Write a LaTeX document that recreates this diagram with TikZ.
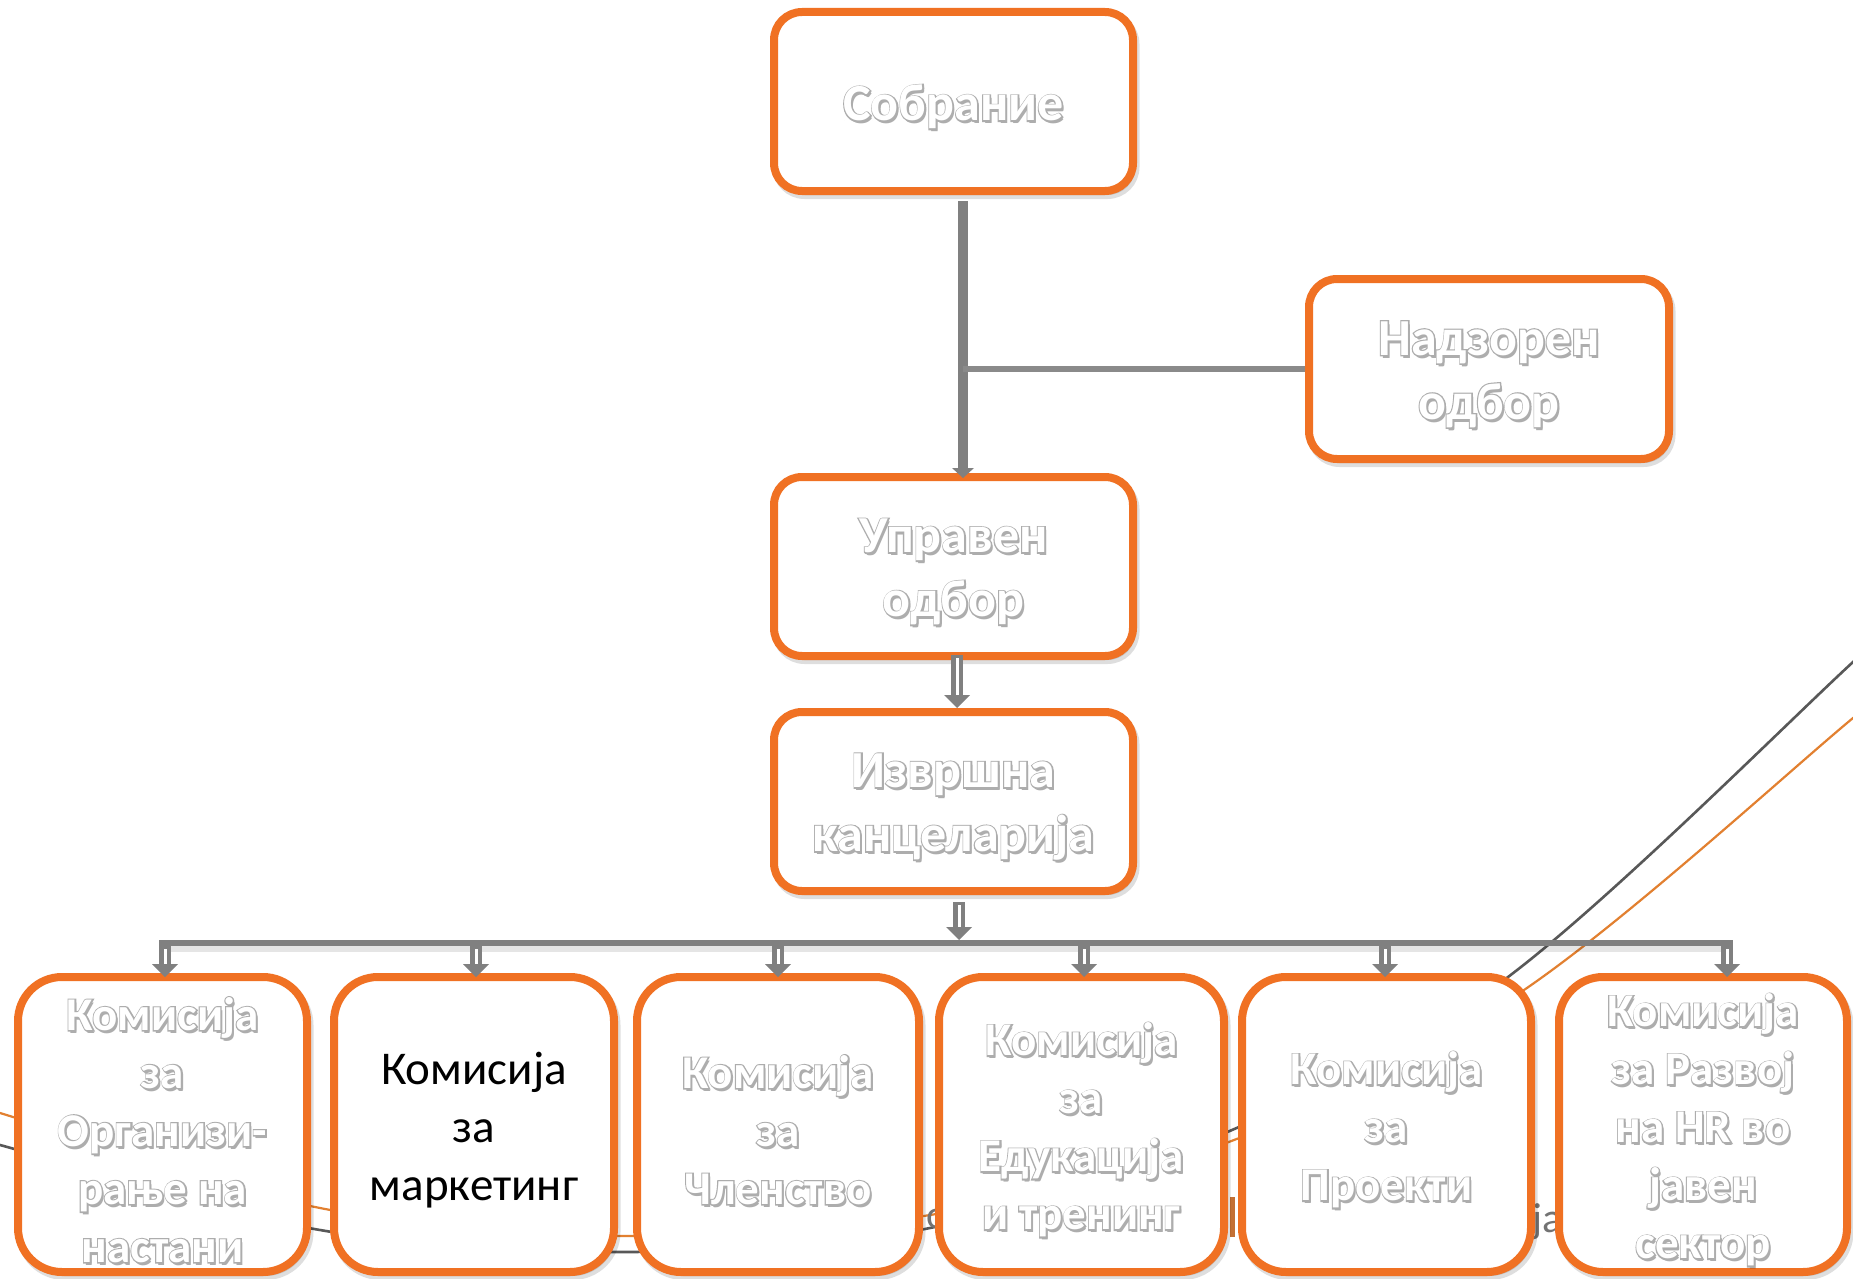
\documentclass[tikz,border=0pt]{standalone}
\usepackage{fontspec}
\setmainfont{Carlito}
\usetikzlibrary{calc}

\definecolor{boxorange}{RGB}{240,113,35}
\definecolor{linkgray}{RGB}{128,128,128}
\definecolor{arcgray}{RGB}{88,88,88}
\definecolor{arcorange}{RGB}{226,128,48}
\definecolor{fragbrown}{RGB}{196,112,52}

\tikzset{
  orgbox/.style={draw=boxorange, line width=8pt, fill=white, rounded corners=28pt,
    minimum width=359pt, minimum height=179pt, inner sep=0pt,
    preaction={draw=black, fill=black, opacity=.13, transform canvas={shift={(2.5pt,-4pt)}}}},
  combox/.style={orgbox, rounded corners=44pt, minimum height=295pt},
  toptxt/.style={font=\bfseries\fontsize{52}{64}\selectfont, align=center, inner sep=0pt},
  comtxt/.style={font=\bfseries\fontsize{47}{58}\selectfont, align=center, inner sep=0pt},
  plaintxt/.style={font=\fontsize{47}{58}\selectfont, align=center, inner sep=0pt, text=black},
  fragtxt/.style={anchor=base west, text=black!55, inner sep=0pt},
}

% fattened glyphs (fill and stroke) for the grey rim round white lettering
\newcommand\fatten{\special{pdf:literal direct 2 Tr 2.6 w 0.68 G}}
\newcommand\unfatten{\special{pdf:literal direct 0 Tr}}

% white lettering: soft shadow, grey rim, white face
\newcommand\glowtext[3][toptxt]{%
  \node[#1, text=black, opacity=.32] at ([shift={(2pt,-8.5pt)}]#2.center) {#3};
  \node[#1, text=black!32] at ([yshift=-5.5pt]#2.center) {\fatten#3\unfatten};
  \node[#1, text=white] (#2t) at ([yshift=-5.5pt]#2.center) {#3};
}

% hollow (double-line) arrow: [inner offset]{start}{tip}
\newcommand\dblarrow[3][3]{%
  \path (#3) ++(0,-13) coordinate (dbhead);
  \draw[linkgray, line width=12pt] (#2) -- (dbhead);
  \draw[white, line width=3pt] (#2) ++(0,#1) -- ($(dbhead)+(0,1)$);
  \fill[linkgray] ($(dbhead)+(-13,0)$) -- (#3) -- ($(dbhead)+(13,0)$) -- cycle;
}

\begin{document}
\begin{tikzpicture}[x=1pt, y=-1pt]
\useasboundingbox (0,0) rectangle (1853,1279);
\fill[white] (0,0) rectangle (1853,1279);

% decorative arcs in the background
\draw[arcgray, line width=2.6pt] plot[smooth, tension=.6] coordinates
  {(-20,1139) (0,1145) (320,1230) (625,1252) (930,1228) (1232,1130) (1508,977) (1853,662) (1880,635)};
\draw[arcorange, line width=2.2pt] plot[smooth, tension=.6] coordinates
  {(-20,1107) (0,1113) (320,1208) (625,1236) (930,1215) (1234,1140) (1524,990) (1853,718) (1880,696)};

% bits of background lettering peeking out between the boxes
\node[fragtxt, font=\fontsize{40}{48}\selectfont] (fragA) at (926,1228) {о};
\node[fragtxt, font=\fontsize{42}{50}\selectfont] (fragB) at (1532,1232) {ја};
\draw[fragbrown, line width=5pt] (1232,1197) -- (1232,1237);

% boxes
\node[orgbox] (top) at (953.5,101.5) {};
\node[orgbox, minimum width=360pt, minimum height=180pt] (nad) at (1489,369) {};
\node[orgbox] (upr) at (953.5,566.5) {};
\node[orgbox] (izv) at (953.5,801.5) {};

\node[combox, minimum width=289pt] (b1) at (162.5,1124.5) {};
\node[combox, minimum width=280pt] (b2) at (474,1124.5) {};
\node[combox, minimum width=282pt] (b3) at (778,1124.5) {};
\node[combox, minimum width=285pt] (b4) at (1081.5,1124.5) {};
\node[combox, minimum width=289pt] (b5) at (1386.5,1124.5) {};
\node[combox, minimum width=288pt] (b6) at (1703,1124.5) {};

% connectors
\coordinate (trunk) at (963,0);
\coordinate (ax) at (957,0);
\coordinate (bx) at (959,0);
\coordinate (bary) at (0,943);

\path (top.south -| trunk) ++(0,6) coordinate (t1);
\path (upr.north -| trunk) ++(0,5) coordinate (t2);
\path (t2) ++(0,-10) coordinate (t2b);
\draw[linkgray, line width=10pt] (t1) -- (t2b);
\fill[linkgray] ($(t2b)+(-11,0)$) -- (t2) -- ($(t2b)+(11,0)$) -- cycle;
\draw[linkgray!92!white, line width=6pt] (trunk |- nad.west) -- (nad.west);

\path (upr.south -| ax) ++(0,-5) coordinate (d1s);
\path (izv.north -| ax) coordinate (d1e);
\dblarrow{d1s}{d1e}

\coordinate (barL) at (159,943);
\coordinate (barR) at (1733,943);
\draw[black, opacity=.10, line width=7pt] ([yshift=-5pt]barL) -- ([yshift=-5pt]barR);
\draw[linkgray, line width=6pt] (barL) -- (barR);

\path (izv.south -| bx) ++(0,7) coordinate (d2s);
\path (bx |- bary) ++(0,-3) coordinate (d2e);
\dblarrow{d2s}{d2e}

\foreach \bn/\xx in {b1/165, b2/476, b3/778, b4/1084, b5/1385, b6/1727}{
  \path (\xx,0) coordinate (cx);
  \path (cx |- bary) ++(0,-3) coordinate (as);
  \path (\bn.north -| cx) ++(0,4) coordinate (ae);
  \dblarrow[9]{as}{ae}
}

% labels
\glowtext{top}{Собрание}
\glowtext{nad}{Надзорен\\одбор}
\glowtext{upr}{Управен\\одбор}
\glowtext{izv}{Извршна\\канцеларија}

\glowtext[comtxt]{b1}{Комисија\\за\\Организи-\\рање на\\настани}
\node[plaintxt] (b2t) at ([yshift=-5.5pt]b2.center) {Комисија\\за\\маркетинг};
\glowtext[comtxt]{b3}{Комисија\\за\\Членство}
\glowtext[comtxt]{b4}{Комисија\\за\\Едукација\\и тренинг}
\glowtext[comtxt]{b5}{Комисија\\за\\Проекти}
\glowtext[comtxt]{b6}{Комисија\\за Развој\\на HR во\\јавен\\сектор}
\end{tikzpicture}
\end{document}
